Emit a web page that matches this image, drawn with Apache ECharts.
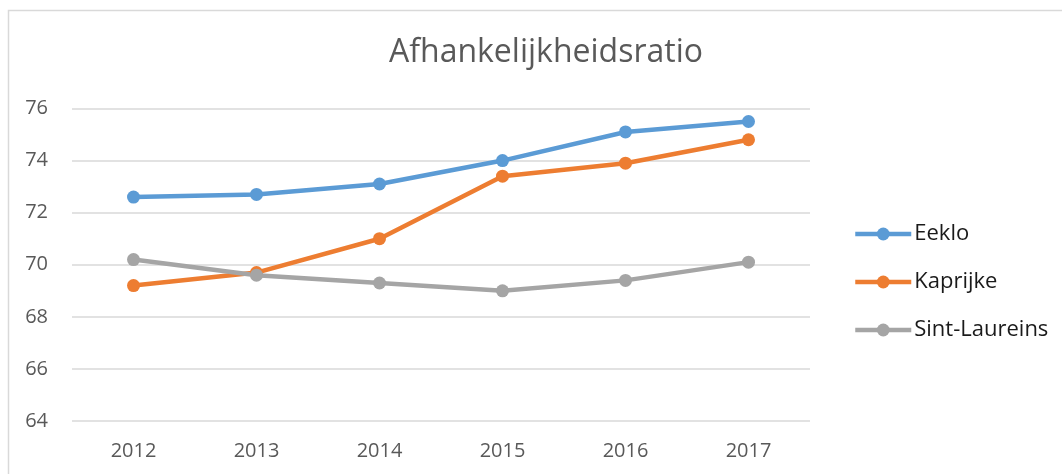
<!DOCTYPE html>
<html>
<head>
<meta charset="utf-8">
<script src="https://cdn.jsdelivr.net/npm/echarts@6/dist/echarts.min.js"></script>
<style>
  html, body { margin: 0; padding: 0; background: #fff; }
  #chart { width: 1062px; height: 474px; }
</style>
</head>
<body>
<div id="chart"></div>
<script>
const years = ['2012', '2013', '2014', '2015', '2016', '2017'];
const eeklo = [72.6, 72.7, 73.1, 74.0, 75.1, 75.5];
const kaprijke = [69.2, 69.7, 71.0, 73.4, 73.9, 74.8];
const sintLaureins = [70.2, 69.6, 69.3, 69.0, 69.4, 70.1];

const font = 'Open Sans';

function lineSeries(name, data, color) {
  return {
    name: name,
    type: 'line',
    data: data,
    symbol: 'circle',
    symbolSize: 13,
    lineStyle: { width: 4.5, color: color },
    itemStyle: { color: color },
    emphasis: { disabled: true }
  };
}

let chart = echarts.init(document.getElementById('chart'));
let option = {
  animation: false,
  graphic: [{
    type: 'rect',
    shape: { x: 8.5, y: 10.5, width: 1100, height: 500 },
    style: { fill: 'none', stroke: '#d9d9d9', lineWidth: 1.5 },
    silent: true
  }],
  title: {
    text: 'Afhankelijkheidsratio',
    left: 541,
    textAlign: 'center',
    top: 32,
    textStyle: { fontFamily: font, fontSize: 32, fontWeight: 'normal', color: '#595959' }
  },
  legend: {
    orient: 'vertical',
    left: 848,
    top: 218,
    itemWidth: 56,
    itemHeight: 16,
    itemGap: 26,
    lineStyle: { width: 'inherit' },
    textStyle: { fontFamily: font, fontSize: 22, color: '#1a1a1a', padding: [0, 0, 0, -2] },
    data: ['Eeklo', 'Kaprijke', 'Sint-Laureins']
  },
  grid: { left: 72, right: 252, top: 108.5, bottom: 53 },
  xAxis: {
    type: 'category',
    data: years,
    boundaryGap: true,
    axisLine: { show: false },
    axisTick: { show: false },
    axisLabel: { fontFamily: font, fontSize: 20, color: '#595959', margin: 20 }
  },
  yAxis: {
    type: 'value',
    min: 64,
    max: 76,
    interval: 2,
    axisLabel: { fontFamily: font, fontSize: 20, color: '#595959', margin: 24 },
    splitLine: { lineStyle: { color: '#d9d9d9', width: 1.5 } }
  },
  series: [
    lineSeries('Eeklo', eeklo, '#5B9BD5'),
    lineSeries('Kaprijke', kaprijke, '#ED7D31'),
    lineSeries('Sint-Laureins', sintLaureins, '#A5A5A5')
  ]
};
option && chart.setOption(option);
</script>
</body>
</html>
